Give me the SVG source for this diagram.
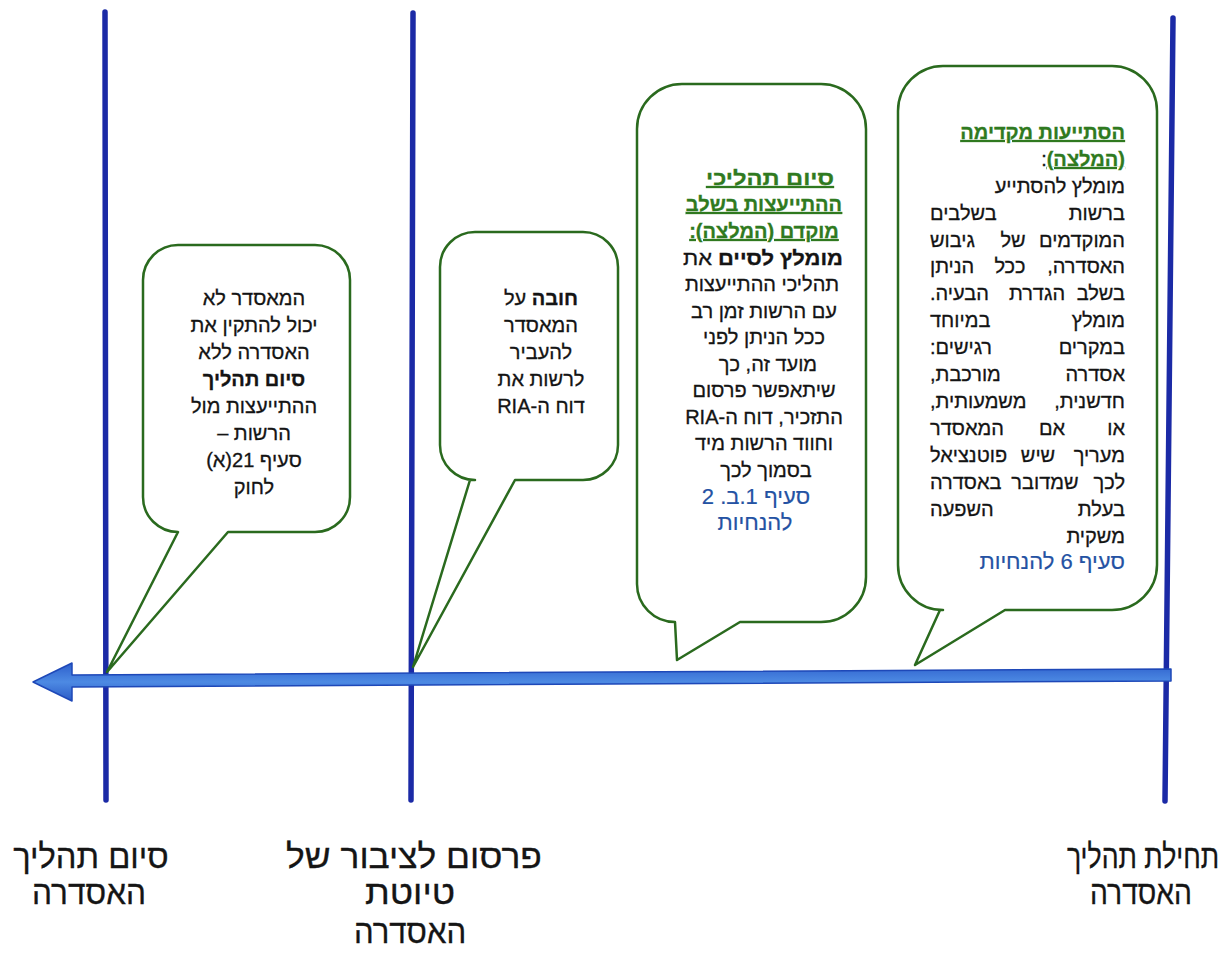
<svg xmlns="http://www.w3.org/2000/svg" width="1232" height="954" viewBox="0 0 1232 954">
<defs>
<linearGradient id="shaft" x1="0" y1="0" x2="0" y2="1">
<stop offset="0" stop-color="#2d5fcc"/>
<stop offset="0.5" stop-color="#4d8ae3"/>
<stop offset="1" stop-color="#2a5ac6"/>
</linearGradient>
<style>
.vl{stroke:#1b2aa6;stroke-width:5.5;stroke-linecap:round;fill:none}
.bub{fill:#ffffff;stroke:#2a6a1e;stroke-width:2.5;stroke-linejoin:round}
.t{font-family:"Liberation Sans",Arial,"DejaVu Sans",sans-serif;font-size:20px;fill:#141414;stroke:#141414;stroke-width:0.3;direction:rtl}
.r{text-anchor:start}
.l{text-anchor:end}
.m{text-anchor:middle}
.b{font-weight:bold}
.g{fill:#2f7a20;stroke:#2f7a20;font-weight:bold;text-decoration:underline}
.ref{fill:#2452a3;stroke:#2452a3;stroke-width:0.2;font-size:22px}
.lbl{font-family:"Liberation Sans",Arial,"DejaVu Sans",sans-serif;font-size:33px;fill:#151515;stroke:#151515;stroke-width:0.3;direction:rtl;text-anchor:middle}
</style>
</defs>
<rect width="1232" height="954" fill="#ffffff"/>

<g id="connectors">
<line class="vl" x1="105" y1="12" x2="106" y2="800"/>
<line class="vl" x1="413" y1="13" x2="411" y2="800"/>
<line class="vl" x1="1173" y1="18" x2="1165" y2="801" stroke="#1d36bb"/>
<path d="M33,682 L72,663 L72,675 L1171,669 L1171,681 L72,687 L72,701 Z" fill="url(#shaft)" stroke="#1e48b8" stroke-width="1.5" stroke-linejoin="round"/>
</g>

<g id="callout-early-consult">
<path class="bub" d="M943,66 H1112 A45,45 0 0 1 1157,111 V565 A45,45 0 0 1 1112,610 H1005 L915,665 L940,610 H943 A45,45 0 0 1 898,565 V111 A45,45 0 0 1 943,66 Z"/>
<text class="t g r" x="1125" y="139">הסתייעות מקדימה</text>
<text class="t r" x="1125" y="166"><tspan class="g">(המלצה)</tspan>:</text>
<text class="t r" x="1125" y="193">מומלץ להסתייע</text>
<text class="t r" x="1125" y="220">ברשות</text><text class="t l" x="930" y="220">בשלבים</text>
<text class="t r" x="1125" y="247">המוקדמים</text><text class="t m" x="1013" y="247">של</text><text class="t l" x="930" y="247">גיבוש</text>
<text class="t r" x="1125" y="273">האסדרה,</text><text class="t m" x="1010" y="273">ככל</text><text class="t l" x="930" y="273">הניתן</text>
<text class="t r" x="1125" y="300">בשלב</text><text class="t m" x="1037" y="300">הגדרת</text><text class="t l" x="930" y="300">הבעיה.</text>
<text class="t r" x="1125" y="327">מומלץ</text><text class="t l" x="930" y="327">במיוחד</text>
<text class="t r" x="1125" y="354">במקרים</text><text class="t l" x="930" y="354">רגישים:</text>
<text class="t r" x="1125" y="381">אסדרה</text><text class="t l" x="930" y="381">מורכבת,</text>
<text class="t r" x="1125" y="408">חדשנית,</text><text class="t l" x="930" y="408">משמעותית,</text>
<text class="t r" x="1125" y="435">או</text><text class="t m" x="1052" y="435">אם</text><text class="t l" x="930" y="435">המאסדר</text>
<text class="t r" x="1125" y="462">מעריך</text><text class="t m" x="1038" y="462">שיש</text><text class="t l" x="930" y="462">פוטנציאל</text>
<text class="t r" x="1125" y="489">לכך</text><text class="t m" x="1045" y="489">שמדובר</text><text class="t l" x="930" y="489">באסדרה</text>
<text class="t r" x="1125" y="516">בעלת</text><text class="t l" x="930" y="516">השפעה</text>
<text class="t r" x="1125" y="543">משקית</text>
<text class="t ref r" x="1125" y="569">סעיף 6 להנחיות</text>
</g>

<g id="callout-end-early-consult">
<path class="bub" d="M682,84 H821 A45,45 0 0 1 866,129 V577 A45,45 0 0 1 821,622 H740 L677,660 L675,622 A38,38 0 0 1 637,584 V129 A45,45 0 0 1 682,84 Z"/>
<text class="t g m" x="770" y="185" textLength="128" lengthAdjust="spacingAndGlyphs">סיום תהליכי</text>
<text class="t g m" x="764" y="211">ההתייעצות בשלב</text>
<text class="t g m" x="764" y="238">מוקדם (המלצה):</text>
<text class="t m" x="763" y="265" textLength="160" lengthAdjust="spacingAndGlyphs"><tspan class="b">מומלץ לסיים</tspan> את</text>
<text class="t m" x="762" y="291">תהליכי ההתייעצות</text>
<text class="t m" x="764" y="318">עם הרשות זמן רב</text>
<text class="t m" x="764" y="344">ככל הניתן לפני</text>
<text class="t m" x="768" y="371">מועד זה, כך</text>
<text class="t m" x="764" y="397">שיתאפשר פרסום</text>
<text class="t m" x="764" y="424">התזכיר, דוח ה-RIA</text>
<text class="t m" x="764" y="450">וחווד הרשות מיד</text>
<text class="t m" x="766" y="477">בסמוך לכך</text>
<text class="t ref m" x="756" y="504">סעיף 1.ב. 2</text>
<text class="t ref m" x="755" y="530">להנחיות</text>
</g>

<g id="callout-ria-duty">
<path class="bub" d="M475,232 H583 A35,35 0 0 1 618,267 V445 A35,35 0 0 1 583,480 H515 L413,667 L470,480 H475 A35,35 0 0 1 440,445 V267 A35,35 0 0 1 475,232 Z"/>
<text class="t m" x="541" y="305"><tspan class="b">חובה</tspan>  על</text>
<text class="t m" x="541" y="332">המאסדר</text>
<text class="t m" x="541" y="359">להעביר</text>
<text class="t m" x="541" y="386">לרשות את</text>
<text class="t m" x="541" y="413">דוח ה-RIA</text>
</g>

<g id="callout-cannot-enact">
<path class="bub" d="M178,245 H315 A35,35 0 0 1 350,280 V497 A35,35 0 0 1 315,532 H228 L107,672 L178,532 A35,35 0 0 1 143,497 V280 A35,35 0 0 1 178,245 Z"/>
<text class="t m" x="254" y="305">המאסדר לא</text>
<text class="t m" x="254" y="332">יכול להתקין את</text>
<text class="t m" x="254" y="359">האסדרה ללא</text>
<text class="t b m" x="254" y="386">סיום תהליך</text>
<text class="t m" x="254" y="413">ההתייעצות מול</text>
<text class="t m" x="254" y="440">הרשות –</text>
<text class="t m" x="254" y="467">סעיף 21(א)</text>
<text class="t m" x="254" y="494">לחוק</text>
</g>

<g id="label-end">
<text class="lbl" transform="translate(91,868) scale(0.85,1)" x="0" y="0" textLength="183" lengthAdjust="spacingAndGlyphs">סיום תהליך</text>
<text class="lbl" transform="translate(89,904) scale(0.85,1)" x="0" y="0" textLength="134" lengthAdjust="spacingAndGlyphs">האסדרה</text>
</g>
<g id="label-publish">
<text class="lbl" transform="translate(414,868) scale(0.85,1)" x="0" y="0" textLength="301" lengthAdjust="spacingAndGlyphs">פרסום לציבור של</text>
<text class="lbl" transform="translate(410,904) scale(0.85,1)" x="0" y="0" textLength="106" lengthAdjust="spacingAndGlyphs">טיוטת</text>
<text class="lbl" transform="translate(410,943) scale(0.85,1)" x="0" y="0" textLength="132" lengthAdjust="spacingAndGlyphs">האסדרה</text>
</g>
<g id="label-start">
<text class="lbl" transform="translate(1143,868) scale(0.85,1)" x="0" y="0" textLength="179" lengthAdjust="spacingAndGlyphs">תחילת תהליך</text>
<text class="lbl" transform="translate(1141,904) scale(0.85,1)" x="0" y="0" textLength="120" lengthAdjust="spacingAndGlyphs">האסדרה</text>
</g>
</svg>
